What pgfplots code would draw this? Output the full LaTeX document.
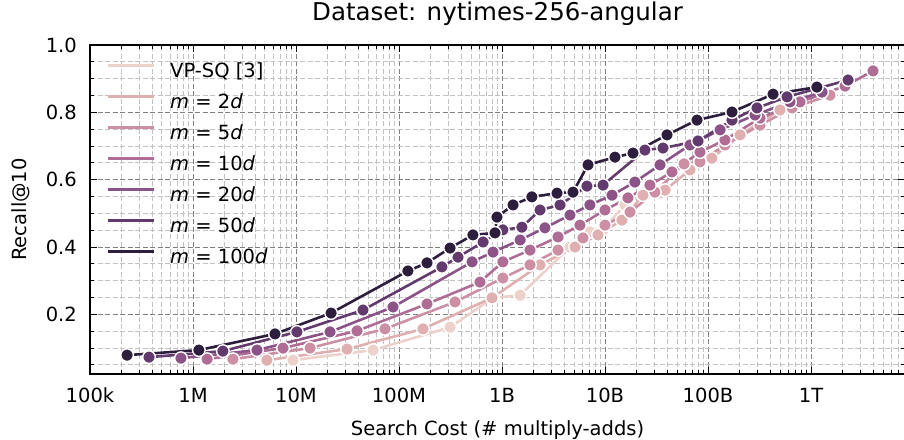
\documentclass[border=0pt]{standalone}
\usepackage{fontspec}
\setmainfont{DejaVu Sans}
\usepackage{pgfplots}
\pgfplotsset{compat=1.18}
\definecolor{c0}{HTML}{EDD1CB}
\definecolor{c1}{HTML}{E0AFB0}
\definecolor{c2}{HTML}{CC8FA3}
\definecolor{c3}{HTML}{AF6D96}
\definecolor{c4}{HTML}{8B5388}
\definecolor{c5}{HTML}{633A6E}
\definecolor{c6}{HTML}{2D1E3E}
\newcommand\fs{\fontsize{19.5}{23}\selectfont}
\pgfplotsset{
  ser/.style={color=#1, line width=2.6pt, mark=*, mark size=6.3pt,
    mark options={fill=#1, draw=white, line width=1.4pt, solid}},
}
\begin{document}
\begin{tikzpicture}
\begin{axis}[
  at={(0,0)}, anchor=south west,
  scale only axis, width=815pt, height=329pt,
  xmode=log, xmin=1e5, xmax=8.18e12, ymin=0.023, ymax=1.0,
  xtick={1e5,1e6,1e7,1e8,1e9,1e10,1e11,1e12},
  xticklabels={100k,1M,10M,100M,1B,10B,100B,1T},
  minor xtick={2e5,3e5,4e5,5e5,6e5,7e5,8e5,9e5,
    2e6,3e6,4e6,5e6,6e6,7e6,8e6,9e6,
    2e7,3e7,4e7,5e7,6e7,7e7,8e7,9e7,
    2e8,3e8,4e8,5e8,6e8,7e8,8e8,9e8,
    2e9,3e9,4e9,5e9,6e9,7e9,8e9,9e9,
    2e10,3e10,4e10,5e10,6e10,7e10,8e10,9e10,
    2e11,3e11,4e11,5e11,6e11,7e11,8e11,9e11,
    2e12,3e12,4e12,5e12,6e12,7e12,8e12},
  ytick={0.2,0.4,0.6,0.8,1.0},
  yticklabels={0.2,0.4,0.6,0.8,1.0},
  minor ytick={0.05,0.1,0.15,0.25,0.3,0.35,0.45,0.5,0.55,0.65,0.7,0.75,0.85,0.9,0.95},
  grid=both,
  major grid style={draw=black!50, dash pattern=on 5pt off 2.5pt, line width=1pt},
  minor grid style={draw=black!24, dash pattern=on 5pt off 2.5pt, line width=1pt},
  tick align=inside, major tick length=7pt, minor tick length=4pt,
  every tick/.style={black, line width=1pt},
  axis line style={black, line width=1.6pt},
  ticklabel style={font=\fs},
  xticklabel style={anchor=base, yshift=-28pt},
  yticklabel style={anchor=east, inner sep=0pt, xshift=-13pt},
  title={Dataset: nytimes-256-angular},
  title style={at={(axis description cs:0.5,1.0547)}, anchor=base, font=\fontsize{24.5}{29}\selectfont, inner sep=0pt},
  xlabel={Search Cost (\# multiply-adds)},
  xlabel style={at={(axis description cs:0.5,-0.188)}, anchor=base, font=\fs, inner sep=0pt},
  ylabel={Recall@10},
  ylabel style={at={(axis description cs:-0.0785,0.5)}, anchor=base, font=\fs, inner sep=0pt},
  legend style={at={(axis description cs:0.0196,0.945)}, anchor=north west, draw=none, fill=none,
    font=\fs, inner sep=0pt, row sep=13pt,
    nodes={inner sep=0pt, text height=14pt, text depth=4pt},
    /tikz/every odd column/.append style={column sep=15pt}},
  legend cell align=left,
  legend image code/.code={\draw[#1, mark=none, line width=3pt] (0pt,7pt) -- (46pt,7pt);},
]
\addplot[ser=c0] coordinates {(9.35e6,0.064) (5.6e7,0.094) (3.13e8,0.162) (8.18e8,0.249) (1.50e9,0.257) (4.57e9,0.400) (7.14e9,0.445) (9.57e9,0.451) (1.56e10,0.525) (2.44e10,0.563) (3.42e10,0.560)};
\addplot[ser=c1] coordinates {(5.22e6,0.064) (3.13e7,0.097) (1.71e8,0.157) (8.0e8,0.249) (2.34e9,0.347) (5.12e9,0.400) (8.55e9,0.436) (1.46e10,0.480) (2.34e10,0.554) (3.83e10,0.569) (6.68e10,0.629) (1.09e11,0.664) (2.05e11,0.733) (5.0e11,0.807)};
\addplot[ser=c2] coordinates {(2.44e6,0.067) (1.37e7,0.100) (7.31e7,0.157) (3.50e8,0.237) (1.02e9,0.308) (1.87e9,0.347) (3.50e9,0.391) (6.11e9,0.427) (1.0e10,0.465) (1.75e10,0.504) (3.05e10,0.563) (5.85e10,0.647) (8.36e10,0.653) (1.46e11,0.703) (3.2e11,0.762) (6.55e11,0.813) (1.53e12,0.851)};
\addplot[ser=c3] coordinates {(1.37e6,0.067) (7.48e6,0.100) (3.91e7,0.151) (1.87e8,0.231) (6.11e8,0.296) (1.02e9,0.356) (1.87e9,0.391) (3.50e9,0.430) (5.71e9,0.465) (1.0e10,0.510) (1.67e10,0.546) (2.73e10,0.584) (4.47e10,0.623) (8.36e10,0.682) (1.46e11,0.718) (3.2e11,0.783) (7.82e11,0.831) (2.14e12,0.878) (4.0e12,0.923)};
\addplot[ser=c4] coordinates {(7.64e5,0.070) (4.18e6,0.094) (2.14e7,0.148) (8.75e7,0.222) (5.12e8,0.356) (8.18e8,0.385) (1.50e9,0.421) (2.61e9,0.457) (4.57e9,0.495) (7.14e9,0.525) (1.17e10,0.554) (1.95e10,0.593) (3.42e10,0.644) (6.68e10,0.703) (1.31e11,0.748) (2.86e11,0.792) (6.25e11,0.831) (1.28e12,0.860)};
\addplot[ser=c5] coordinates {(3.74e5,0.073) (1.95e6,0.091) (1.02e7,0.148) (4.47e7,0.213) (2.61e8,0.341) (3.74e8,0.370) (6.55e8,0.415) (1.02e9,0.451) (1.56e9,0.459) (2.34e9,0.510) (3.66e9,0.525) (6.68e9,0.581) (9.57e9,0.584) (2.44e10,0.688) (3.66e10,0.694) (8.0e10,0.715) (1.71e11,0.777) (2.99e11,0.813) (5.85e11,0.846) (2.29e12,0.896)};
\addplot[ser=c6] coordinates {(2.29e5,0.079) (1.14e6,0.094) (6.25e6,0.142) (2.19e7,0.204) (1.22e8,0.329) (1.87e8,0.353) (3.13e8,0.397) (5.22e8,0.436) (8.55e8,0.442) (8.94e8,0.489) (1.28e9,0.525) (1.95e9,0.549) (3.42e9,0.560) (4.89e9,0.563) (6.84e9,0.644) (1.25e10,0.667) (1.87e10,0.679) (4.0e10,0.733) (7.82e10,0.777) (1.71e11,0.801) (4.28e11,0.854) (1.14e12,0.875)};
\legend{VP-SQ [3], {\itshape m} = 2{\itshape d}, {\itshape m} = 5{\itshape d}, {\itshape m} = 10{\itshape d}, {\itshape m} = 20{\itshape d}, {\itshape m} = 50{\itshape d}, {\itshape m} = 100{\itshape d}}
\end{axis}
\pgfresetboundingbox
\useasboundingbox (-90pt,-65pt) rectangle (814pt,374pt);
\end{tikzpicture}
\end{document}
